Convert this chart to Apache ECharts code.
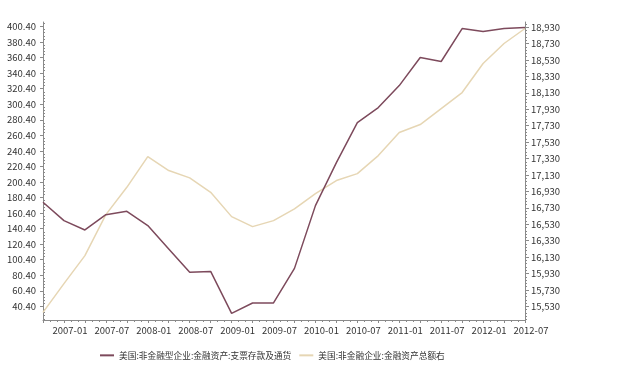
<!DOCTYPE html>
<html><head><meta charset="utf-8">
<script src="https://cdn.jsdelivr.net/npm/echarts@6/dist/echarts.min.js"></script>
<style>html,body{margin:0;padding:0;background:#fff}#c{width:620px;height:373px}</style>
</head><body><div id="c"></div>
<script>
var categories = ['2006-10','2007-01','2007-04','2007-07','2007-10','2008-01','2008-04','2008-07','2008-10','2009-01','2009-04','2009-07','2009-10','2010-01','2010-04','2010-07','2010-10','2011-01','2011-04','2011-07','2011-10','2012-01','2012-04','2012-07'];
var cashDeposits = [174.3,150.7,138.7,158.4,162.7,144.3,114.3,84.2,85.4,31.4,44.8,44.8,89.3,170.0,225.4,276.8,296.1,324.4,360.5,355.4,397.8,394.0,397.8,399.1];
var totalFinAssets = [15457,15807,16148,16647,16980,17354,17184,17095,16919,16623,16501,16574,16717,16903,17062,17147,17366,17647,17744,17939,18134,18488,18731,18914];
var leftTicks = [40.4,60.4,80.4,100.4,120.4,140.4,160.4,180.4,200.4,220.4,240.4,260.4,280.4,300.4,320.4,340.4,360.4,380.4,400.4];
var rightTicks = [15530,15730,15930,16130,16330,16530,16730,16930,17130,17330,17530,17730,17930,18130,18330,18530,18730,18930];
var seriesNames = ['美国:非金融型企业:金融资产:支票存款及通货','美国:非金融企业:金融资产总额右'];

var LMIN = 22.9, LMAX = 406.2, RMIN = 15364, RMAX = 18993;
function minors(ticks, step, n, lo, hi) {
  var out = [];
  var start = ticks[0] - step;
  for (var v = start; v <= ticks[ticks.length-1] + step; v += step) {
    for (var k = 1; k < n; k++) {
      var m = +(v + step * k / n).toFixed(4);
      if (m > lo && m < hi) out.push(m);
    }
  }
  return out;
}
var font = '"SimSun","Noto Sans CJK SC",sans-serif';
var axisColor = '#8a8a8a';
var chart = echarts.init(document.getElementById('c'), null, {renderer:'canvas'});
chart.setOption({
  animation: false,
  backgroundColor: '#fff',
  grid: {left: 43, right: 95, top: 22, bottom: 53},
  legend: {
    left: 95, top: 346, itemGap: 8, itemWidth: 14, itemHeight: 2, icon: 'rect',
    textStyle: {fontSize: 8.7, color: '#333', fontFamily: font},
    data: seriesNames
  },
  xAxis: {
    type: 'value', min: 0, max: categories.length - 1, interval: 1,
    axisLine: {lineStyle: {color: axisColor}},
    axisTick: {length: 3, lineStyle: {color: axisColor}},
    minorTick: {show: true, splitNumber: 3, length: 2, lineStyle: {color: axisColor}},
    splitLine: {show: false},
    axisLabel: {
      color: '#333', fontSize: 9.5, fontFamily: font, margin: 6, padding: [0,0,0,12],
      showMinLabel: true, showMaxLabel: true,
      formatter: function (v) { return v % 2 === 1 ? categories[v] : ''; }
    }
  },
  yAxis: [
    {
      type: 'value', position: 'left', min: LMIN, max: LMAX,
      axisLine: {show: true, lineStyle: {color: axisColor}},
      axisTick: {show: true, length: 3, customValues: leftTicks, lineStyle: {color: axisColor}},
      axisLabel: {customValues: leftTicks, color: '#333', fontSize: 9.5, fontFamily: font, margin: 7,
        formatter: function (v) { return v.toFixed(2); }},
      splitLine: {show: false}
    },
    {
      type: 'value', position: 'left', min: LMIN, max: LMAX,
      axisLine: {show: false},
      axisTick: {show: true, inside: true, length: 2, customValues: minors(leftTicks, 20, 5, LMIN, LMAX), lineStyle: {color: axisColor}},
      axisLabel: {show: false},
      splitLine: {show: false}
    },
    {
      type: 'value', position: 'right', min: RMIN, max: RMAX,
      axisLine: {show: true, lineStyle: {color: axisColor}},
      axisTick: {show: true, length: 4, customValues: rightTicks, lineStyle: {color: axisColor}},
      axisLabel: {customValues: rightTicks, color: '#333', fontSize: 9.5, fontFamily: font, margin: 6,
        formatter: function (v) { return Math.round(v).toLocaleString('en-US'); }},
      splitLine: {show: false}
    },
    {
      type: 'value', position: 'right', min: RMIN, max: RMAX,
      axisLine: {show: false},
      axisTick: {show: true, length: 2, customValues: minors(rightTicks, 200, 5, RMIN, RMAX), lineStyle: {color: axisColor}},
      axisLabel: {show: false},
      splitLine: {show: false}
    }
  ],
  series: [
    {
      name: seriesNames[1], type: 'line', yAxisIndex: 2, symbol: 'none',
      lineStyle: {width: 1.5, color: '#e6d6b4'}, itemStyle: {color: '#e6d6b4'},
      data: totalFinAssets.map(function (v, i) { return [i, v]; })
    },
    {
      name: seriesNames[0], type: 'line', yAxisIndex: 0, symbol: 'none',
      lineStyle: {width: 1.5, color: '#7d4a5c'}, itemStyle: {color: '#7d4a5c'},
      data: cashDeposits.map(function (v, i) { return [i, v]; })
    }
  ]
});
</script></body></html>
